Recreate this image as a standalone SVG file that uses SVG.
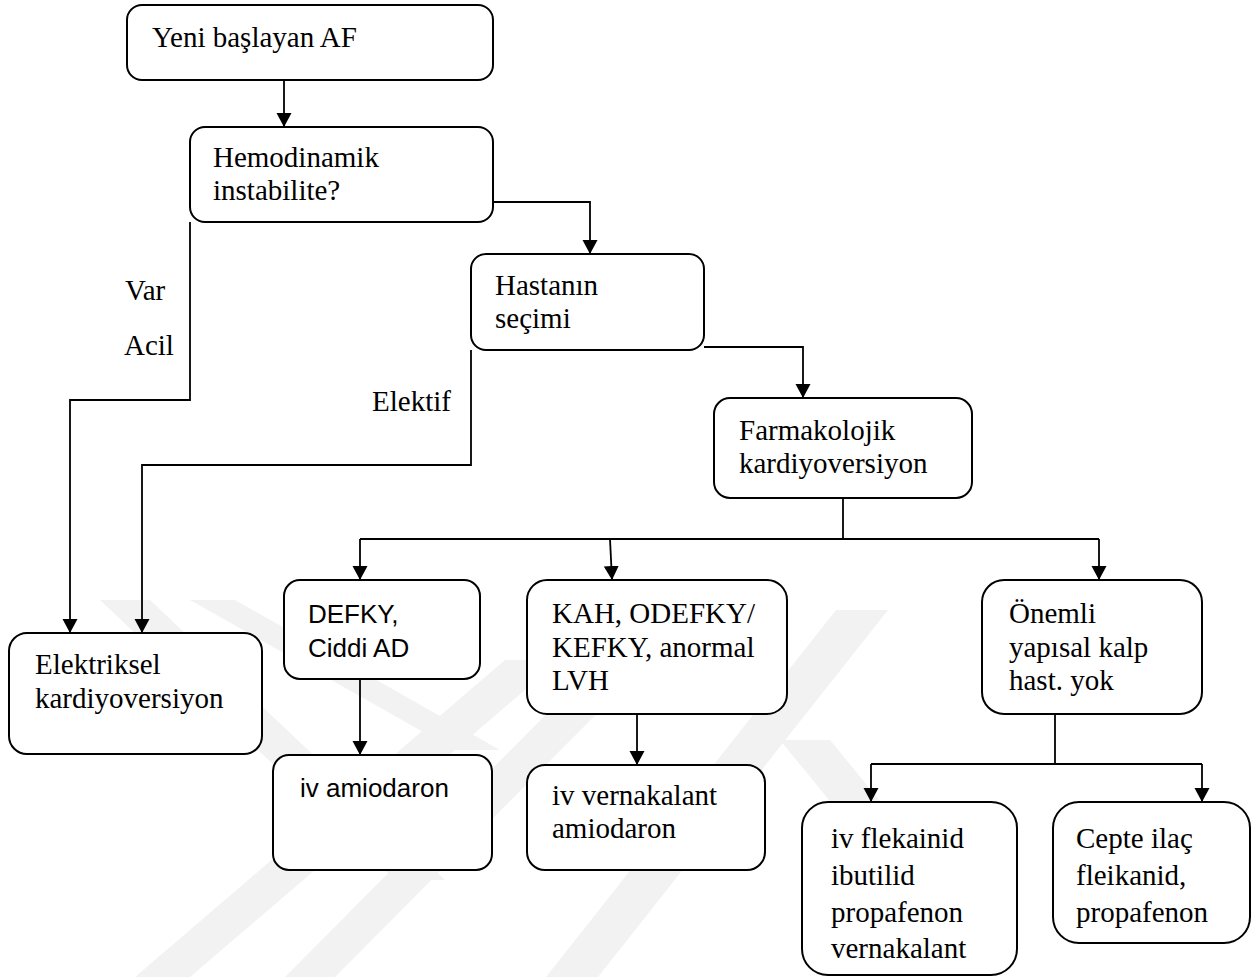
<svg xmlns="http://www.w3.org/2000/svg" width="1253" height="977" viewBox="0 0 1253 977">
  <style>
    .box { fill: #ffffff; stroke: #000000; stroke-width: 2; }
    .wire { fill: none; stroke: #000000; stroke-width: 1.8; }
    .t { font-family: "Liberation Serif", "Times New Roman", serif; font-size: 29px; fill: #000000; }
    .s { font-family: "Liberation Sans", Arial, sans-serif; font-size: 26px; fill: #000000; }
    .wm { fill: #f2f2f2; }
  </style>
  <defs>
    <marker id="arrow" markerUnits="userSpaceOnUse" markerWidth="16" markerHeight="16" refX="14" refY="7.5" orient="auto">
      <path d="M0,0 L14,7.5 L0,15 z" fill="#000000"/>
    </marker>
  </defs>

  <rect width="1253" height="977" fill="#ffffff"/>

  <!-- faint background stripes -->
  <g id="background-stripes">
    <polygon class="wm" points="100,600 150,600 445,880 395,880"/>
    <polygon class="wm" points="190,600 235,600 500,750 455,750"/>
    <polygon class="wm" points="135,977 190,977 560,660 505,660"/>
    <polygon class="wm" points="285,977 335,977 700,610 650,610"/>
    <polygon class="wm" points="546,977 598,977 888,610 836,610"/>
    <polygon class="wm" points="780,740 830,740 1010,960 960,960"/>
  </g>

  <!-- connectors -->
  <g id="connectors">
    <line class="wire" x1="284" y1="80" x2="284" y2="127" marker-end="url(#arrow)"/>
    <polyline class="wire" points="493,202 590,202 590,254" marker-end="url(#arrow)"/>
    <polyline class="wire" points="704,347 803,347 803,398" marker-end="url(#arrow)"/>
    <polyline class="wire" points="190,222 190,400 70,400 70,633" marker-end="url(#arrow)"/>
    <polyline class="wire" points="471,350 471,465 142,465 142,633" marker-end="url(#arrow)"/>
    <line class="wire" x1="843" y1="498" x2="843" y2="539"/>
    <line class="wire" x1="360" y1="539" x2="1099" y2="539"/>
    <line class="wire" x1="360" y1="539" x2="360" y2="580" marker-end="url(#arrow)"/>
    <line class="wire" x1="610" y1="539" x2="612" y2="580" marker-end="url(#arrow)"/>
    <line class="wire" x1="1099" y1="539" x2="1099" y2="580" marker-end="url(#arrow)"/>
    <line class="wire" x1="360" y1="679" x2="360" y2="755" marker-end="url(#arrow)"/>
    <line class="wire" x1="637" y1="714" x2="637" y2="765" marker-end="url(#arrow)"/>
    <line class="wire" x1="1055" y1="714" x2="1055" y2="764"/>
    <line class="wire" x1="871" y1="764" x2="1202" y2="764"/>
    <line class="wire" x1="871" y1="764" x2="871" y2="802" marker-end="url(#arrow)"/>
    <line class="wire" x1="1202" y1="764" x2="1202" y2="802" marker-end="url(#arrow)"/>
    <text class="t" x="125" y="300">Var</text>
    <text class="t" x="124" y="355">Acil</text>
    <text class="t" x="372" y="411">Elektif</text>
  </g>

  <!-- nodes -->
  <g id="node-yeni">
    <rect class="box" x="127" y="5" width="366" height="75" rx="15"/>
    <text class="t" x="152" y="47">Yeni başlayan AF</text>
  </g>
  <g id="node-hemodinamik">
    <rect class="box" x="190" y="127" width="303" height="95" rx="15"/>
    <text class="t" x="213" y="167">Hemodinamik</text>
    <text class="t" x="213" y="200">instabilite?</text>
  </g>
  <g id="node-hastanin">
    <rect class="box" x="471" y="254" width="233" height="96" rx="15"/>
    <text class="t" x="495" y="295">Hastanın</text>
    <text class="t" x="495" y="328">seçimi</text>
  </g>
  <g id="node-farmakolojik">
    <rect class="box" x="714" y="398" width="258" height="100" rx="16"/>
    <text class="t" x="739" y="440">Farmakolojik</text>
    <text class="t" x="739" y="473">kardiyoversiyon</text>
  </g>
  <g id="node-elektriksel">
    <rect class="box" x="9" y="633" width="253" height="121" rx="18"/>
    <text class="t" x="35" y="674">Elektriksel</text>
    <text class="t" x="35" y="708">kardiyoversiyon</text>
  </g>
  <g id="node-defky">
    <rect class="box" x="284" y="580" width="196" height="99" rx="16"/>
    <text class="s" x="308" y="623">DEFKY,</text>
    <text class="s" x="308" y="657">Ciddi AD</text>
  </g>
  <g id="node-iv-amiodaron">
    <rect class="box" x="273" y="755" width="219" height="115" rx="16"/>
    <text class="s" x="300" y="797">iv amiodaron</text>
  </g>
  <g id="node-kah">
    <rect class="box" x="527" y="580" width="260" height="134" rx="20"/>
    <text class="t" x="552" y="623">KAH, ODEFKY/</text>
    <text class="t" x="552" y="657">KEFKY, anormal</text>
    <text class="t" x="552" y="690">LVH</text>
  </g>
  <g id="node-vernakalant">
    <rect class="box" x="527" y="765" width="238" height="105" rx="18"/>
    <text class="t" x="552" y="805">iv vernakalant</text>
    <text class="t" x="552" y="838">amiodaron</text>
  </g>
  <g id="node-onemli">
    <rect class="box" x="982" y="580" width="220" height="134" rx="22"/>
    <text class="t" x="1009" y="623">Önemli</text>
    <text class="t" x="1009" y="657">yapısal kalp</text>
    <text class="t" x="1009" y="690">hast. yok</text>
  </g>
  <g id="node-flekainid">
    <rect class="box" x="802" y="802" width="215" height="173" rx="26"/>
    <text class="t" x="831" y="848">iv flekainid</text>
    <text class="t" x="831" y="885">ibutilid</text>
    <text class="t" x="831" y="922">propafenon</text>
    <text class="t" x="831" y="958">vernakalant</text>
  </g>
  <g id="node-cepte">
    <rect class="box" x="1053" y="802" width="197" height="141" rx="26"/>
    <text class="t" x="1076" y="848">Cepte ilaç</text>
    <text class="t" x="1076" y="885">fleikanid,</text>
    <text class="t" x="1076" y="922">propafenon</text>
  </g>
</svg>
